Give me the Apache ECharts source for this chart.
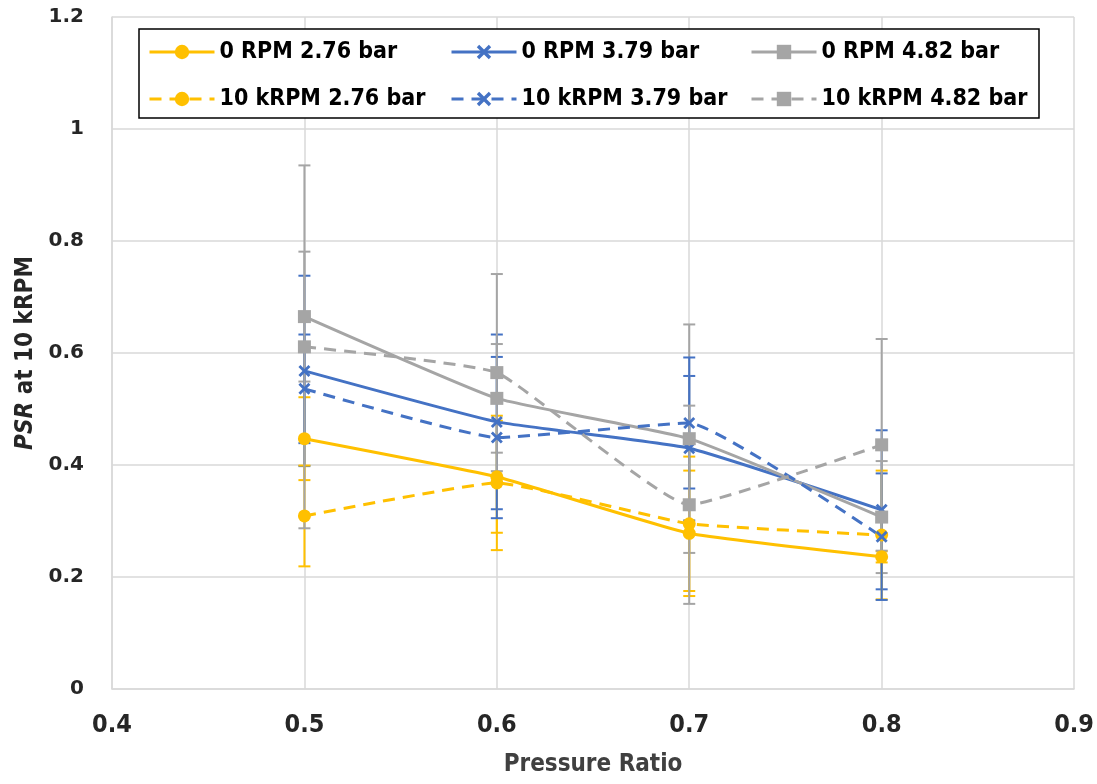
<!DOCTYPE html>
<html>
<head>
<meta charset="utf-8">
<script src="https://cdn.jsdelivr.net/npm/echarts@6/dist/echarts.min.js"></script>
<style>
html,body{margin:0;padding:0;background:#fff;}
#chart{width:1097px;height:784px;}
</style>
</head>
<body>
<div id="chart"></div>
<script>
// ---- data ----
const pressureRatio = [0.5, 0.6, 0.7, 0.8];
const seriesNames = ['0 RPM 2.76 bar', '0 RPM 3.79 bar', '0 RPM 4.82 bar',
                     '10 kRPM 2.76 bar', '10 kRPM 3.79 bar', '10 kRPM 4.82 bar'];
const rpm0_276 = [0.447, 0.379, 0.278, 0.236];
const rpm0_379 = [0.568, 0.477, 0.430, 0.320];
const rpm0_482 = [0.665, 0.519, 0.447, 0.307];
const rpm10_276 = [0.309, 0.368, 0.295, 0.275];
const rpm10_379 = [0.536, 0.449, 0.475, 0.272];
const rpm10_482 = [0.611, 0.565, 0.329, 0.436];
const err0_276 = [0.074, 0.100, 0.112, 0.010];
const err0_379 = [0.170, 0.156, 0.129, 0.142];
const err0_482 = [0.116, 0.097, 0.204, 0.100];
const err10_276 = [0.090, 0.120, 0.120, 0.115];
const err10_379 = [0.097, 0.144, 0.117, 0.113];
const err10_482 = [0.324, 0.176, 0.177, 0.189];
const xTicks = [0.4, 0.5, 0.6, 0.7, 0.8, 0.9];
const yTicks = [0, 0.2, 0.4, 0.6, 0.8, 1, 1.2];

const GOLD = '#FFC000', BLUE = '#4472C4', GRAY = '#A5A5A5';
const XSYM = 'path://M2,0 L6,4 L10,0 L12,2 L8,6 L12,10 L10,12 L6,8 L2,12 L0,10 L4,6 L0,2 Z';

const defs = [
  {name: seriesNames[0], vals: rpm0_276, err: err0_276, color: GOLD, sym: 'circle', size: 13, dashed: false},
  {name: seriesNames[1], vals: rpm0_379, err: err0_379, color: BLUE, sym: XSYM, size: 12, dashed: false},
  {name: seriesNames[2], vals: rpm0_482, err: err0_482, color: GRAY, sym: 'rect', size: 13, dashed: false},
  {name: seriesNames[3], vals: rpm10_276, err: err10_276, color: GOLD, sym: 'circle', size: 13, dashed: true},
  {name: seriesNames[4], vals: rpm10_379, err: err10_379, color: BLUE, sym: XSYM, size: 12, dashed: true},
  {name: seriesNames[5], vals: rpm10_482, err: err10_482, color: GRAY, sym: 'rect', size: 13, dashed: true}
];

const series = [];
defs.forEach((d, i) => {
  const color = d.color;
  series.push({
    name: 'err' + i,
    type: 'custom',
    z: 2,
    silent: true,
    encode: {x: 0, y: [1, 2]},
    data: pressureRatio.map((x, k) => [x, d.vals[k] - d.err[k], d.vals[k] + d.err[k]]),
    renderItem: function (params, api) {
      const x = api.value(0), lo = api.value(1), hi = api.value(2);
      const pH = api.coord([x, hi]), pL = api.coord([x, lo]);
      const c = 6;
      const st = {stroke: color, lineWidth: 2};
      return {type: 'group', children: [
        {type: 'line', shape: {x1: pH[0], y1: pH[1], x2: pL[0], y2: pL[1]}, style: st},
        {type: 'line', shape: {x1: pH[0] - c, y1: pH[1], x2: pH[0] + c, y2: pH[1]}, style: st},
        {type: 'line', shape: {x1: pL[0] - c, y1: pL[1], x2: pL[0] + c, y2: pL[1]}, style: st}
      ]};
    }
  });
});
defs.forEach((d) => {
  series.push({
    name: d.name,
    type: 'line',
    z: 3,
    smooth: 0.12,
    symbol: d.sym,
    symbolSize: d.size,
    showAllSymbol: true,
    data: pressureRatio.map((x, k) => [x, d.vals[k]]),
    lineStyle: {color: d.color, width: 3, type: d.dashed ? [12, 8] : 'solid'},
    itemStyle: {color: d.color}
  });
});

const legendFont = {fontFamily: '"DejaVu Sans Condensed", "DejaVu Sans"', fontWeight: 'bold', fontSize: 23, color: '#000', lineHeight: 28};
function makeLegend(left, names) {
  return {
    orient: 'vertical', left: left, top: 38, padding: 0, itemGap: 19,
    itemWidth: 65, itemHeight: 18, itemTextGap: 5, z: 6,
    lineStyle: {width: 3},
    data: names, textStyle: legendFont, selectedMode: false
  };
}

const chart = echarts.init(document.getElementById('chart'), null, {renderer: 'canvas'});
chart.setOption({
  animation: false,
  backgroundColor: '#fff',
  grid: {left: 112, right: 21, top: 17, bottom: 95},
  graphic: [{
    type: 'rect', z: 4,
    shape: {x: 139, y: 29, width: 900, height: 89},
    style: {fill: '#fff', stroke: '#000', lineWidth: 1.5}
  }],
  legend: [
    makeLegend(148, [seriesNames[0], seriesNames[3]]),
    makeLegend(450, [seriesNames[1], seriesNames[4]]),
    makeLegend(750, [seriesNames[2], seriesNames[5]])
  ],
  xAxis: {
    type: 'value', min: xTicks[0], max: xTicks[xTicks.length - 1], interval: 0.1,
    name: 'Pressure Ratio', nameLocation: 'middle', nameGap: 64,
    nameTextStyle: {fontFamily: '"DejaVu Sans Condensed", "DejaVu Sans"', fontWeight: 'bold', fontSize: 24, color: '#404040'},
    axisLine: {show: true, lineStyle: {color: '#D9D9D9', width: 1.5}},
    axisTick: {show: false},
    splitLine: {show: true, lineStyle: {color: '#D9D9D9', width: 1.5}},
    axisLabel: {margin: 24, fontFamily: '"DejaVu Sans Condensed", "DejaVu Sans"', fontWeight: 'bold', fontSize: 25, color: '#262626',
      formatter: v => v.toFixed(1)}
  },
  yAxis: {
    type: 'value', min: yTicks[0], max: yTicks[yTicks.length - 1], interval: 0.2,
    name: '{i|PSR} at 10 kRPM', nameLocation: 'middle', nameGap: 70,
    nameTextStyle: {fontFamily: '"DejaVu Sans Condensed", "DejaVu Sans"', fontWeight: 'bold', fontSize: 24, color: '#262626',
      rich: {i: {fontFamily: '"DejaVu Sans Condensed", "DejaVu Sans"', fontWeight: 'bold', fontStyle: 'italic', fontSize: 24, color: '#262626'}}},
    axisLine: {show: true, lineStyle: {color: '#D9D9D9', width: 1.5}},
    axisTick: {show: false},
    splitLine: {show: true, lineStyle: {color: '#D9D9D9', width: 1.5}},
    axisLabel: {margin: 28, fontFamily: '"DejaVu Sans"', fontWeight: 'bold', fontSize: 20, color: '#262626',
      formatter: v => String(Math.round(v * 10) / 10)}
  },
  series: series
});
</script>
</body>
</html>
